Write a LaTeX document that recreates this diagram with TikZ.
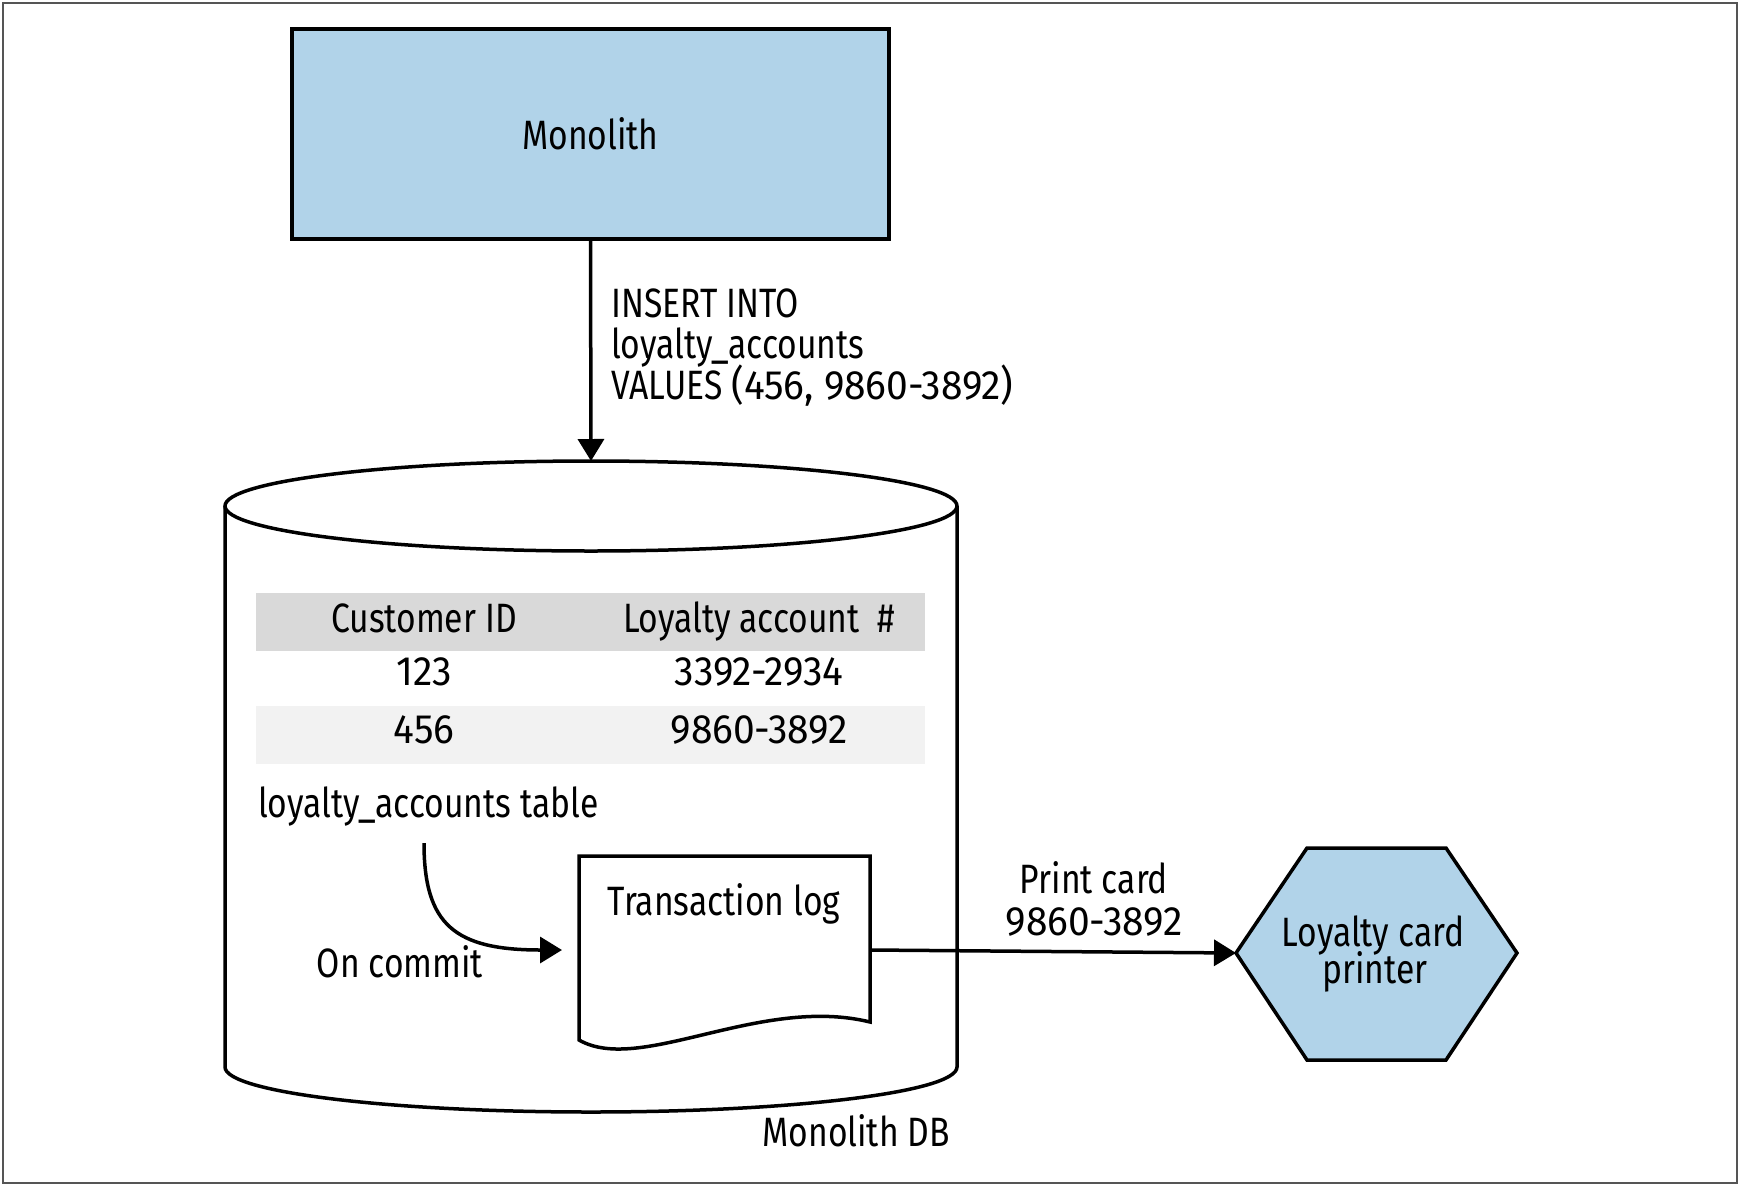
\documentclass[tikz,border=0pt]{standalone}
\usepackage{fontspec}
\setmainfont{Fira Sans}[FakeStretch=0.82]
\newfontfamily\numfont{Fira Sans}[FakeStretch=0.95]
\usetikzlibrary{arrows.meta}
\definecolor{boxblue}{HTML}{B1D3E9}
\definecolor{hdrgray}{HTML}{D9D9D9}
\definecolor{rowgray}{HTML}{F2F2F2}
\definecolor{framegray}{HTML}{555555}
\tikzset{
  lbl/.style={font=\fontsize{41}{48}\selectfont, inner sep=0pt, text=black},
  shapeline/.style={draw=black, line width=3.5pt, line join=miter},
  conn/.style={draw=black, line width=3.5pt, -{Triangle[length=22pt,width=26pt]}},
}
\begin{document}
\begin{tikzpicture}[x=1pt, y=-1pt]
\useasboundingbox (0,0) rectangle (1740,1186);
\draw[framegray, line width=2pt] (3,3) rectangle (1737,1183);

% Monolith box
\node[shapeline, fill=boxblue, minimum width=597pt, minimum height=210pt, inner sep=0pt, lbl] (mono) at (590.5,134) {Monolith};

% Cylinder
\draw[shapeline, fill=white] (225,506) -- (225,1067) .. controls (225,1092) and (389,1112) .. (591,1112)
  .. controls (793,1112) and (957,1092) .. (957,1067) -- (957,506);
\draw[shapeline, fill=white] (591,506) ellipse [x radius=366, y radius=45];
\coordinate (dbtop) at (591,461);
\node[lbl, anchor=base east] (dbname) at (950,1146) {Monolith DB};

% Arrow monolith -> db
\draw[conn] (mono.south) -- (dbtop);
\node[lbl, anchor=base west] (q1) at (611,317) {INSERT INTO};
\node[lbl, anchor=base west] (q2) at (611,358) {loyalty\_accounts};
\node[lbl, anchor=base west] (q3) at (611,399) {VALUES {\numfont(456, 9860-3892)}};

% Table
\fill[hdrgray] (256,593) rectangle (925,651);
\fill[rowgray] (256,706) rectangle (925,764);
\node[lbl, anchor=base] (h1) at (424,632) {Customer ID};
\node[lbl, anchor=base] (h2) at (759,632) {Loyalty account\ \ \#};
\node[lbl, anchor=base] (r11) at (424,685) {\numfont 123};
\node[lbl, anchor=base] (r12) at (759,685) {\numfont 3392-2934};
\node[lbl, anchor=base] (r21) at (424,743) {\numfont 456};
\node[lbl, anchor=base] (r22) at (759,743) {\numfont 9860-3892};
\node[lbl, anchor=base west] (tname) at (258,817) {loyalty\_accounts table};

% Transaction log document
\draw[shapeline, fill=white] (579,1040) -- (579,856) -- (870,856) -- (870,1022)
  .. controls (760,995) and (640,1075) .. (579,1040) -- cycle;
\node[lbl, anchor=base] (tlog) at (724,915) {Transaction log};
\coordinate (logout) at (870,950);

% On commit arrow
\coordinate (cstart) at (424,843);
\coordinate (cend) at (562,950);
\draw[conn] (cstart) .. controls (424,925) and (455,950) .. (cend);
\node[lbl, anchor=base] (commit) at (400,977) {On commit};

% Printer hexagon
\draw[shapeline, fill=boxblue] (1236,953) -- (1307,848) -- (1446,848) -- (1517,953) -- (1446,1060) -- (1307,1060) -- cycle;
\coordinate (hexleft) at (1236,953);
\node[lbl, anchor=base] (p1) at (1373,946) {Loyalty card};
\node[lbl, anchor=base] (p2) at (1375,983) {printer};

% Print arrow
\draw[conn] (logout) -- (hexleft);
\node[lbl, anchor=base] (pc1) at (1094,893) {Print card};
\node[lbl, anchor=base] (pc2) at (1094,935) {\numfont 9860-3892};
\end{tikzpicture}
\end{document}
